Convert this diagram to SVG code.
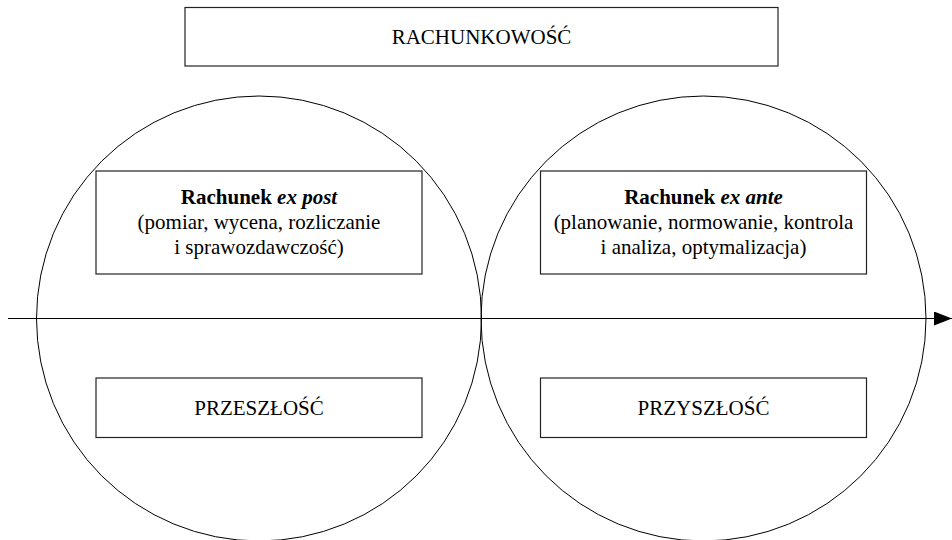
<svg xmlns="http://www.w3.org/2000/svg" width="952" height="540" viewBox="0 0 952 540">
<style>
.box{fill:#fff;stroke:#222;stroke-width:1.2}
.circ{fill:none;stroke:#000;stroke-width:1}
.t{font-family:"Liberation Serif","Times New Roman",serif;font-size:21px;fill:#000;text-anchor:middle}
.b{font-weight:bold}
.i{font-style:italic}
</style>
<defs>
<marker id="arr" markerWidth="18" markerHeight="14" refX="18" refY="7" orient="auto" markerUnits="userSpaceOnUse">
<path d="M0,0 L18,7 L0,14 Z" fill="#000"/>
</marker>
</defs>
<rect width="952" height="540" fill="#fff"/>
<g id="circle-past"><circle class="circ" cx="259" cy="318.5" r="222.5"/></g>
<g id="circle-future"><circle class="circ" cx="703.5" cy="318.5" r="222.5"/></g>
<g id="connectors">
<line x1="8" y1="318.5" x2="952" y2="318.5" stroke="#000" stroke-width="1" marker-end="url(#arr)"/>
</g>
<g id="rachunkowosc">
<rect class="box" x="185" y="7.5" width="593" height="58.5"/>
<text class="t" x="481.5" y="43.5">RACHUNKOWOŚĆ</text>
</g>
<g id="ex-post">
<rect class="box" x="96" y="171" width="326" height="103"/>
<text class="t" x="259" y="203.5"><tspan class="b">Rachunek </tspan><tspan class="b i">ex post</tspan></text>
<text class="t" x="259" y="228.5">(pomiar, wycena, rozliczanie</text>
<text class="t" x="259" y="253.5">i sprawozdawczość)</text>
</g>
<g id="ex-ante">
<rect class="box" x="540.5" y="171" width="326" height="103"/>
<text class="t" x="703.5" y="203.5"><tspan class="b">Rachunek </tspan><tspan class="b i">ex ante</tspan></text>
<text class="t" x="703.5" y="228.5">(planowanie, normowanie, kontrola</text>
<text class="t" x="703.5" y="253.5">i analiza, optymalizacja)</text>
</g>
<g id="przeszlosc">
<rect class="box" x="96" y="378" width="326" height="59.5"/>
<text class="t" x="259" y="414.5">PRZESZŁOŚĆ</text>
</g>
<g id="przyszlosc">
<rect class="box" x="540.5" y="378" width="326" height="59.5"/>
<text class="t" x="703.5" y="414.5">PRZYSZŁOŚĆ</text>
</g>
</svg>
